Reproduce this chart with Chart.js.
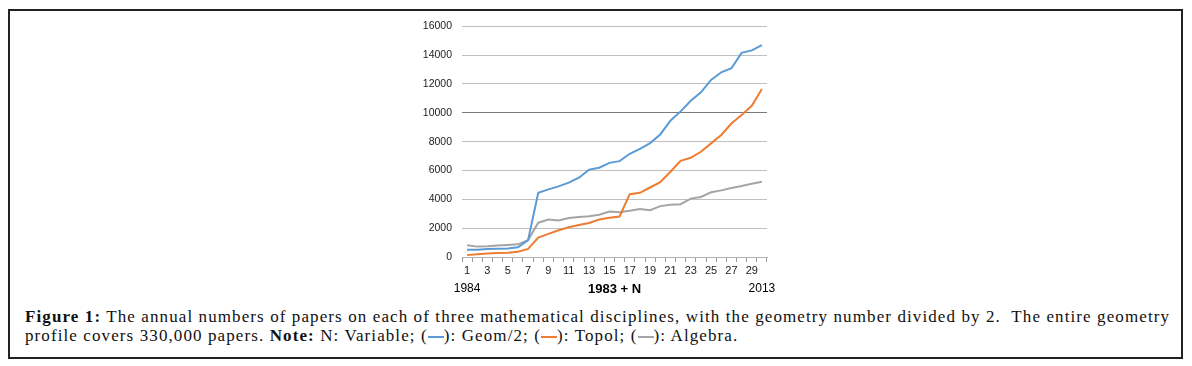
<!DOCTYPE html>
<html>
<head>
<meta charset="utf-8">
<script src="https://cdn.jsdelivr.net/npm/chart.js@4.4.1/dist/chart.umd.min.js"></script>
<style>
  html, body { margin: 0; padding: 0; background: #fff; }
  body { width: 1192px; height: 366px; position: relative; overflow: hidden; }
  #frame {
    position: absolute; left: 8px; top: 9px; width: 1171px; height: 346px;
    border: 2px solid #222;
  }
  #chartBox { position: absolute; left: 395px; top: 10px; width: 390px; height: 287px; }
  #caption {
    position: absolute; left: 25px; top: 307px; width: 1160px;
    font-family: "Liberation Serif", serif; font-size: 17px; line-height: 19px;
    color: #111; letter-spacing: 1.1px; white-space: nowrap;
  }
  #caption b { font-weight: bold; }
  .sw { display: inline-block; width: 16px; height: 2px; vertical-align: 3px; }
</style>
</head>
<body>
<div id="frame"></div>
<div id="chartBox"><canvas id="papersChart"></canvas></div>
<div id="caption">
  <div><b>Figure 1:</b> The annual numbers of papers on each of three mathematical disciplines, with the geometry number divided by 2.&nbsp; The entire geometry</div>
  <div>profile covers 330,000 papers. <b>Note:</b> N: Variable; (<span class="sw" style="background:#5b9bd5"></span>): Geom/2; (<span class="sw" style="background:#ed7d31"></span>): Topol; (<span class="sw" style="background:#a5a5a5"></span>): Algebra.</div>
</div>
<script>
// N = 1..30 (year = 1983 + N)
const years = Array.from({ length: 30 }, (_, i) => String(i + 1));
const geomHalf = [510, 510, 555, 580, 590, 670, 1160, 4460, 4690, 4900, 5160, 5500, 6060, 6190, 6530,
                  6650, 7160, 7500, 7900, 8500, 9450, 10100, 10840, 11420, 12280, 12810, 13090, 14160, 14330, 14700];
const topol = [130, 190, 240, 280, 300, 360, 560, 1340, 1600, 1850, 2060, 2220, 2360, 2600, 2720,
               2810, 4360, 4450, 4820, 5190, 5910, 6670, 6880, 7300, 7880, 8460, 9260, 9840, 10490, 11650];
const algebra = [810, 720, 740, 790, 830, 880, 1160, 2380, 2600, 2540, 2700, 2770, 2820, 2930, 3160,
                 3110, 3200, 3320, 3250, 3530, 3620, 3660, 4050, 4160, 4490, 4620, 4780, 4920, 5080, 5220];
const endYears = ["1984", "2013"];

const yearLabels = {
    id: "yearLabels",
    afterDraw(chart) {
        const x = chart.scales.x;
        const ctx = chart.ctx;
        ctx.save();
        ctx.font = "12px 'Liberation Sans', Arial, sans-serif";
        ctx.fillStyle = "#000";
        ctx.textAlign = "center";
        ctx.textBaseline = "middle";
        const y = x.bottom - 8;
        ctx.fillText(endYears[0], x.getPixelForValue(0), y);
        ctx.fillText(endYears[1], x.getPixelForValue(years.length - 1), y);
        ctx.restore();
    }
};

const line = (data, color) => ({
    data: data,
    borderColor: color,
    backgroundColor: color,
    borderWidth: 2,
    pointRadius: 0,
    tension: 0,
    fill: false
});

new Chart(document.getElementById("papersChart"), {
    type: "line",
    data: {
        labels: years,
        datasets: [
            line(geomHalf, "#5b9bd5"),
            line(topol, "#ed7d31"),
            line(algebra, "#a5a5a5")
        ]
    },
    options: {
        responsive: true,
        maintainAspectRatio: false,
        animation: false,
        layout: { padding: { top: 12, right: 18, left: 0, bottom: 0 } },
        plugins: { legend: { display: false }, tooltip: { enabled: false } },
        scales: {
            x: {
                offset: true,
                grid: { drawOnChartArea: false, drawTicks: true, tickLength: 5, color: "#9a9a9a", offset: true },
                border: { display: true, color: "#b0b0b0" },
                ticks: {
                    autoSkip: false, maxRotation: 0, padding: 2,
                    color: "#222", font: { family: "'Liberation Sans', Arial, sans-serif", size: 11 },
                    callback: (v, i) => (i % 2 === 0 ? years[i] : "")
                },
                title: {
                    display: true, text: "1983 + N", color: "#000",
                    font: { family: "'Liberation Sans', Arial, sans-serif", size: 13, weight: "bold" },
                    padding: { top: 2, bottom: 0 }
                },
                afterFit: (s) => { s.height = 40; }
            },
            y: {
                min: 0, max: 16000,
                grid: {
                    drawTicks: false,
                    color: (c) => (c.tick && c.tick.value === 10000 ? "#7a7a7a" : "#c0c0c0")
                },
                border: { display: false },
                ticks: {
                    stepSize: 2000, padding: 10,
                    color: "#222", font: { family: "'Liberation Sans', Arial, sans-serif", size: 10.5 },
                    callback: (v) => String(v)
                },
                afterFit: (s) => { s.width = 67; }
            }
        }
    },
    plugins: [yearLabels]
});
</script>
</body>
</html>
